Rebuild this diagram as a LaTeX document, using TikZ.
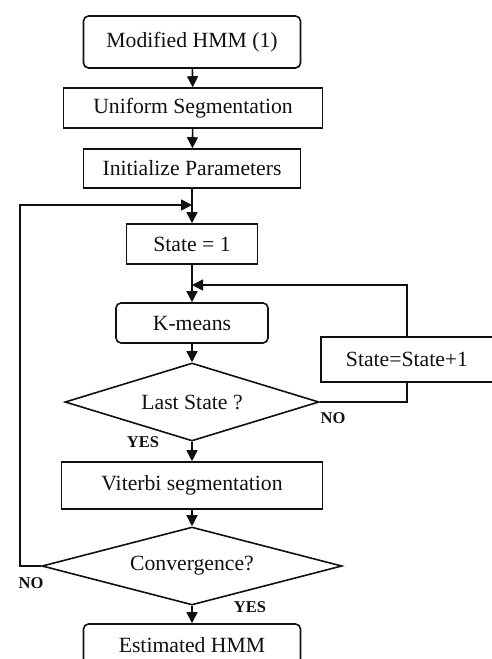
\documentclass[tikz,border=0pt]{standalone}
\usepackage{fontspec}
\setmainfont{Liberation Serif}
\usepackage{tikz}
\usetikzlibrary{shapes.geometric,arrows.meta}
\definecolor{ChartInk}{HTML}{101010}

\begin{document}
\begin{tikzpicture}[x=1pt,y=-1pt,
    every node/.style={font=\fontsize{21.7}{24}\selectfont,text=ChartInk,inner sep=0pt},
    procbox/.style={draw=ChartInk,line width=1.6pt,rectangle},
    roundbox/.style={procbox,rounded corners=5pt},
    decision/.style={draw=ChartInk,line width=1.6pt,diamond,shape aspect=3.3},
    flow/.style={draw=ChartInk,line width=1.6pt,-{Triangle[length=11pt,width=11pt]}},
    link/.style={draw=ChartInk,line width=1.6pt},
    answer/.style={font=\fontsize{16.5}{20}\bfseries\selectfont}]
      \useasboundingbox (0,0) rectangle (492,659);
      \clip (0,0) rectangle (492,659);
      % main column
      \node[roundbox,minimum width=217pt,minimum height=52pt] (hmm) at (192,42) {Modified HMM (1)};
      \node[procbox,minimum width=259pt,minimum height=40pt] (unif) at (193,108) {Uniform Segmentation};
      \node[procbox,minimum width=217pt,minimum height=39pt] (init) at (192,168.5) {Initialize Parameters};
      \node[procbox,minimum width=131pt,minimum height=40pt] (st1) at (192,244) {State = 1};
      \node[roundbox,minimum width=152pt,minimum height=40pt] (kmeans) at (192,323) {K-means};
      \node[decision,minimum width=254pt,minimum height=78pt] (last) at (192,402) {Last State ?};
      \node[procbox,minimum width=261pt,minimum height=47pt] (vit) at (192,485.5) {Viterbi segmentation};
      \node[decision,minimum width=300pt,minimum height=78pt] (conv) at (192,566) {Convergence?};
      \node[roundbox,minimum width=217pt,minimum height=42pt] (est) at (192,645) {Estimated HMM};
      % side box
      \node[procbox,minimum width=172pt,minimum height=45pt] (inc) at (407,359.5) {State=State+1};
      \coordinate (outer) at (20,566);
      \coordinate (outerjoin) at (192,205);
      \coordinate (innerjoin) at (192,285);
      % connectors
      \draw[flow] (hmm) -- (unif);
      \draw[flow] (unif) -- (init);
      \draw[flow] (init) -- (st1);
      \draw[flow] (st1) -- (kmeans);
      \draw[flow] (kmeans) -- (last);
      \draw[flow] (last) -- (vit);
      \draw[flow] (vit) -- (conv);
      \draw[flow] (conv) -- (est);
      \draw[link] (last.east) -| (inc.south);
      \draw[flow] (inc.north) |- (innerjoin);
      \draw[flow] (conv.west) -- (outer) |- (outerjoin);
      % answers
      \node[answer] (lastno) at (333,418) {NO};
      \node[answer] (lastyes) at (143,442) {YES};
      \node[answer] (convno) at (31,583) {NO};
      \node[answer] (convyes) at (250,607) {YES};
    \end{tikzpicture}
\end{document}
